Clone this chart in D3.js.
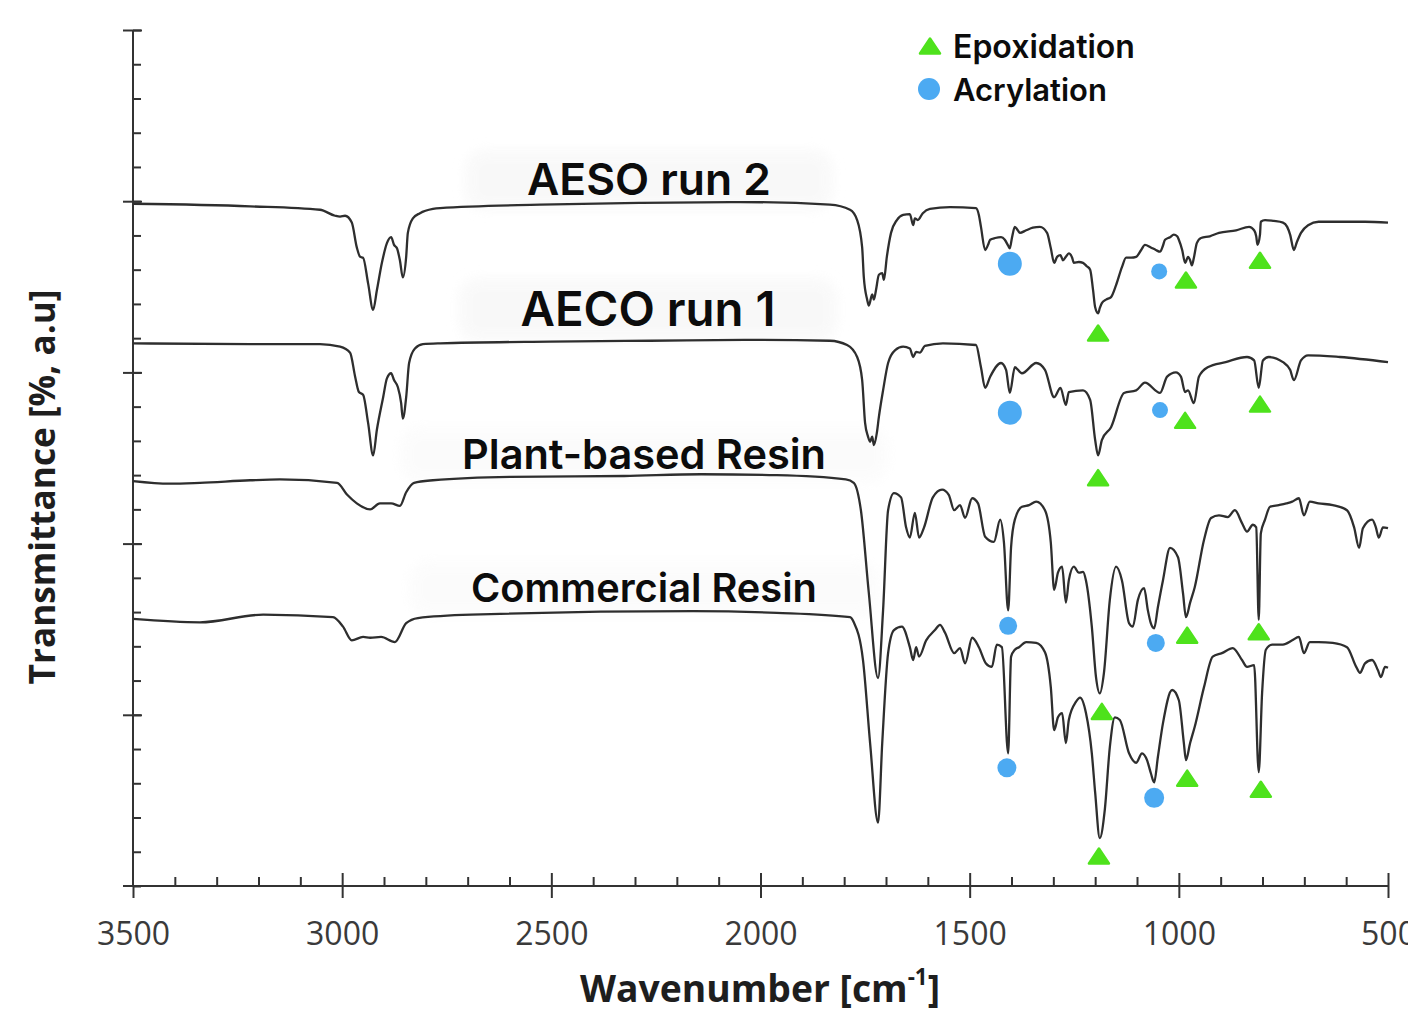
<!DOCTYPE html>
<html>
<head>
<meta charset="utf-8">
<script src="https://cdn.jsdelivr.net/npm/d3@7"></script>
<style>
  html, body { margin: 0; padding: 0; background: #ffffff; }
  svg { display: block; }
</style>
</head>
<body>
<svg id="chart" width="1408" height="1010"></svg>
<script>
// ---------------- DATA ----------------
const wavenumberTicks = [3500, 3000, 2500, 2000, 1500, 1000, 500];
const wavenumberTickLabels = ["3500", "3000", "2500", "2000", "1500", "1000", "500"];
const seriesNames = ["AESO run 2", "AECO run 1", "Plant-based Resin", "Commercial Resin"];
const legendLabels = ["Epoxidation", "Acrylation"];

// [wavenumber cm-1, transmittance (stacked, a.u.)]
const aesoRun2 = [[3500,79.7],[3220,79.4],[3053,79.0],[3017,78.3],[3005,78.2],[2993,78.3],[2977,77.5],[2965,74.6],[2957,73.5],[2950,73.4],[2938,70.4],[2926,67.3],[2917,69.6],[2905,72.8],[2893,75.1],[2883,75.8],[2876,74.9],[2869,74.5],[2862,73.1],[2855,71.1],[2847,73.5],[2843,76.3],[2831,78.0],[2814,78.6],[2783,79.1],[2766,79.2],[2527,79.6],[2288,79.8],[2049,79.9],[1834,79.6],[1786,79.0],[1769,77.8],[1757,74.6],[1753,71.1],[1745,68.5],[1741,67.8],[1733,69.1],[1729,68.5],[1724,69.6],[1717,71.4],[1709,71.6],[1705,70.8],[1698,73.5],[1688,76.3],[1674,77.8],[1659,78.4],[1643,78.5],[1635,77.2],[1631,78.0],[1624,77.8],[1612,78.6],[1595,79.1],[1547,79.3],[1485,79.2],[1478,78.4],[1473,77.0],[1463,74.3],[1456,74.9],[1451,75.5],[1439,75.7],[1425,75.8],[1416,75.5],[1408,74.8],[1404,74.5],[1399,75.7],[1392,77.0],[1385,76.6],[1380,76.3],[1365,76.6],[1349,76.9],[1332,77.0],[1315,76.3],[1306,74.5],[1298,72.8],[1291,73.5],[1283,73.7],[1277,73.1],[1270,73.5],[1263,73.9],[1255,73.4],[1251,72.8],[1239,72.9],[1229,72.8],[1220,72.4],[1212,72.0],[1205,69.6],[1200,67.6],[1193,66.9],[1189,67.5],[1184,68.1],[1174,68.5],[1162,68.8],[1150,70.2],[1136,72.3],[1126,73.4],[1114,73.4],[1102,73.5],[1090,74.3],[1081,74.9],[1067,74.6],[1055,74.3],[1045,74.1],[1038,74.8],[1033,75.5],[1021,75.8],[1012,76.1],[1004,75.9],[1000,75.5],[992,74.3],[985,72.8],[978,73.5],[973,73.1],[969,72.5],[964,73.4],[957,75.1],[947,75.7],[926,75.9],[904,76.3],[863,76.6],[832,77.0],[820,76.6],[815,75.9],[812,74.9],[806,76.1],[804,77.6],[794,77.8],[773,77.7],[751,77.5],[741,77.0],[734,76.1],[725,74.3],[718,75.2],[708,76.3],[691,77.2],[666,77.6],[615,77.6],[555,77.6],[500,77.5]];

const aecoRun1 = [[3500,63.4],[3220,63.3],[3053,63.3],[3005,63.0],[2981,62.3],[2969,59.5],[2960,57.7],[2950,57.4],[2938,54.1],[2926,50.3],[2917,53.3],[2902,57.1],[2893,59.3],[2883,59.9],[2876,59.1],[2867,58.3],[2859,56.4],[2855,54.6],[2847,57.1],[2840,61.1],[2826,62.8],[2807,63.3],[2766,63.4],[2503,63.6],[2264,63.7],[2025,63.8],[1834,63.7],[1793,63.2],[1769,61.8],[1757,59.1],[1750,54.1],[1743,52.5],[1738,51.9],[1733,52.5],[1729,51.5],[1722,52.9],[1717,54.8],[1707,57.9],[1695,61.1],[1678,62.6],[1659,63.0],[1643,62.8],[1635,61.8],[1628,62.4],[1619,62.3],[1607,63.1],[1564,63.4],[1485,63.2],[1473,60.6],[1463,58.2],[1451,59.5],[1425,61.1],[1413,60.3],[1404,57.6],[1392,60.6],[1375,59.9],[1341,61.1],[1320,60.3],[1298,57.1],[1283,58.2],[1270,56.2],[1263,57.7],[1229,57.9],[1212,56.8],[1200,52.1],[1193,50.3],[1184,52.1],[1162,53.6],[1131,57.6],[1102,57.9],[1081,58.8],[1045,57.6],[1028,59.5],[1007,60.0],[995,59.5],[985,57.7],[978,57.9],[964,56.4],[952,59.5],[931,60.6],[888,61.2],[837,61.8],[820,61.4],[809,58.2],[799,61.4],[785,61.8],[751,61.2],[734,60.3],[725,59.1],[708,61.4],[691,62.0],[615,61.8],[500,61.2]];

const plantResin = [[3500,47.3],[3412,47.0],[3340,47.1],[3220,47.4],[3149,47.5],[3012,47.1],[2988,45.7],[2965,44.7],[2933,44.0],[2910,44.7],[2883,44.7],[2862,44.4],[2847,46.0],[2828,47.1],[2783,47.4],[2599,47.8],[2326,47.9],[2142,48.1],[1961,48.0],[1796,47.5],[1777,47.1],[1760,43.9],[1741,34.2],[1719,24.3],[1707,32.2],[1695,43.9],[1681,45.9],[1664,45.4],[1652,41.9],[1643,40.7],[1631,43.6],[1621,40.7],[1609,41.9],[1588,45.4],[1566,46.3],[1550,45.7],[1537,43.9],[1523,44.5],[1511,43.0],[1494,45.3],[1480,44.7],[1463,40.8],[1442,40.2],[1427,42.8],[1418,40.1],[1408,32.2],[1401,39.6],[1392,42.8],[1375,44.3],[1358,44.5],[1341,44.9],[1320,43.9],[1306,40.1],[1298,34.6],[1289,36.6],[1279,37.3],[1270,33.1],[1263,35.7],[1251,37.3],[1239,36.6],[1229,36.7],[1222,35.7],[1208,30.3],[1198,24.4],[1189,22.5],[1179,24.9],[1165,33.4],[1150,37.3],[1136,35.7],[1119,30.7],[1110,30.3],[1098,33.4],[1083,34.8],[1074,32.2],[1067,30.7],[1059,30.1],[1050,32.6],[1038,35.7],[1021,39.5],[1002,38.4],[990,34.2],[983,31.4],[973,33.1],[962,34.9],[940,40.4],[923,43.0],[904,43.3],[883,43.1],[866,43.9],[849,42.4],[837,41.4],[823,42.2],[815,41.9],[809,31.1],[804,41.2],[794,42.8],[782,44.3],[761,44.5],[743,44.7],[729,44.9],[713,45.3],[701,43.3],[687,44.9],[666,44.7],[632,44.5],[598,43.9],[581,41.9],[569,39.5],[560,41.8],[538,42.8],[529,41.9],[522,40.7],[512,41.9],[500,41.8]];

const commercialResin = [[3500,31.2],[3340,30.8],[3189,31.7],[3022,31.4],[2998,30.3],[2977,28.7],[2950,29.1],[2933,29.0],[2907,29.1],[2874,28.5],[2847,30.7],[2819,31.3],[2692,31.7],[2161,32.1],[1961,31.9],[1786,31.4],[1777,30.8],[1755,26.4],[1738,16.7],[1719,7.4],[1709,16.7],[1695,27.2],[1681,29.9],[1662,30.3],[1643,27.9],[1635,26.4],[1628,27.9],[1621,26.8],[1604,28.7],[1583,29.9],[1571,30.5],[1559,29.6],[1537,27.2],[1523,27.8],[1511,26.0],[1494,29.0],[1478,27.9],[1461,26.0],[1447,25.6],[1435,28.2],[1423,27.9],[1408,15.5],[1401,26.8],[1392,27.6],[1382,27.9],[1365,28.5],[1341,28.4],[1320,27.3],[1306,23.2],[1298,18.2],[1289,19.7],[1279,20.2],[1270,16.7],[1263,19.4],[1246,21.5],[1236,22.0],[1222,20.2],[1208,15.5],[1200,10.9],[1189,5.6],[1177,8.9],[1165,16.2],[1153,19.7],[1141,19.4],[1119,15.5],[1102,14.4],[1088,15.5],[1076,14.7],[1067,13.2],[1059,12.1],[1050,15.1],[1038,19.0],[1016,22.9],[1000,21.7],[988,16.7],[983,14.7],[973,16.7],[962,18.6],[940,23.2],[919,26.8],[897,27.2],[871,27.8],[849,26.4],[837,25.6],[820,25.8],[809,13.3],[801,22.5],[792,27.6],[777,28.2],[751,28.2],[729,28.7],[713,29.1],[701,27.2],[687,28.5],[666,28.5],[632,28.4],[598,27.9],[576,25.6],[567,24.9],[555,26.0],[538,26.4],[524,25.2],[517,24.4],[507,25.6],[500,25.5]];

// annotated bands: [wavenumber, transmittance position of marker]
const epoxidationMarks = [[1193,64.6],[983,70.8],[806,73.1],[1193,47.7],[985,54.4],[806,56.3],[1184,20.4],[980,29.3],[809,29.7],[1191,3.5],[980,12.6],[804,11.3]];
const acrylationMarks = [[1404,72.7],[1047,71.8],[1404,55.3],[1045,55.6],[1408,30.4],[1055,28.4],[1411,13.8],[1059,10.3]];

// ---------------- STYLE / LAYOUT ----------------
const ink = "#333333";
const green = "#4ee21c";
const blue = "#4caaf2";
const circleRadii = [12, 8, 12, 8, 9, 9, 9.5, 10];

const svg = d3.select("#chart");
const x = d3.scaleLinear().domain([3500, 500]).range([133, 1388]);
const y = d3.scaleLinear().domain([0, 100]).range([886, 30]);

const defs = svg.append("defs");
defs.append("filter").attr("id", "soft").attr("x", "-20%").attr("y", "-50%").attr("width", "140%").attr("height", "200%")
  .append("feGaussianBlur").attr("stdDeviation", 6);

function fit(sel, target) {
  const w = sel.node().getComputedTextLength();
  const fs = parseFloat(sel.attr("font-size"));
  sel.attr("font-size", fs * target / w);
  return sel;
}

// ---------------- AXES ----------------
const axG = svg.append("g");
const styleTicks = g => { g.select(".domain").remove(); g.selectAll("line").attr("stroke", ink).attr("stroke-width", 2); };
// Y axis
axG.append("g").attr("transform", "translate(133,0)")
  .call(d3.axisRight(y).tickValues(d3.range(0, 101, 4)).tickSize(8).tickFormat("")).call(styleTicks);
axG.append("g").attr("transform", "translate(133,0)")
  .call(d3.axisLeft(y).tickValues(d3.range(20, 101, 20)).tickSize(10).tickFormat("")).call(styleTicks);
axG.append("g").attr("transform", "translate(133,0)")
  .call(d3.axisRight(y).tickValues(d3.range(20, 101, 20)).tickSize(9).tickFormat("")).call(styleTicks);
axG.append("line").attr("x1", 133).attr("x2", 133).attr("y1", y(100)).attr("y2", y(0))
  .attr("stroke", ink).attr("stroke-width", 2);

// X axis
const xMinor = d3.range(3400, 499, -100).filter(v => v % 500 !== 0);
axG.append("g").attr("transform", "translate(0,886)")
  .call(d3.axisTop(x).tickValues(xMinor).tickSize(9).tickFormat("")).call(styleTicks);
axG.append("g").attr("transform", "translate(0,886)")
  .call(d3.axisTop(x).tickValues(wavenumberTicks.slice(1)).tickSize(13).tickFormat("")).call(styleTicks);
const xAxisBottom = axG.append("g").attr("transform", "translate(0,886)")
  .call(d3.axisBottom(x).tickValues(wavenumberTicks).tickSize(12).tickPadding(24)
    .tickFormat((d, i) => wavenumberTickLabels[i]))
  .call(styleTicks);
xAxisBottom.selectAll("text")
  .attr("font-family", "'Open Sans', sans-serif").attr("font-size", 32)
  .attr("fill", "#3a3a3a").attr("dy", "0.71em");
axG.append("line").attr("x1", 123).attr("x2", x(500)).attr("y1", 886).attr("y2", 886)
  .attr("stroke", ink).attr("stroke-width", 2);

// axis titles
const xt = svg.append("text").attr("x", 760).attr("y", 1002).attr("text-anchor", "middle")
  .attr("font-family", "'Open Sans', sans-serif").attr("font-weight", 700).attr("font-size", 33).attr("fill", "#1e1e1e");
xt.append("tspan").text("Wavenumber [cm");
xt.append("tspan").text("-1").attr("font-size", "0.6em").attr("dy", "-0.75em");
xt.append("tspan").text("]").attr("dy", "0.45em");
fit(xt, 360);

const yt = svg.append("text").attr("transform", "translate(55,487) rotate(-90)").attr("text-anchor", "middle")
  .attr("font-family", "'Open Sans', sans-serif").attr("font-weight", 700).attr("font-size", 32).attr("fill", "#1e1e1e")
  .text("Transmittance [%, a.u]");
fit(yt, 395);

// ---------------- SERIES LABELS ----------------
const labelSpecs = [
  { cx: 649, base: 195, width: 244 },
  { cx: 648, base: 326, width: 255 },
  { cx: 644, base: 469, width: 364 },
  { cx: 644, base: 602, width: 346 }
];
const labelBg = svg.append("g");
const labelG = svg.append("g");
seriesNames.forEach((name, i) => {
  const s = labelSpecs[i];
  const t = labelG.append("text").attr("x", s.cx).attr("y", s.base).attr("text-anchor", "middle")
    .attr("font-family", "Inter, 'Noto Sans', sans-serif").attr("font-weight", 600).attr("font-size", 38)
    .attr("fill", "#0c0c0c").text(name);
  fit(t, s.width);
  const bb = t.node().getBBox();
  labelBg.append("rect").attr("x", bb.x - 62).attr("y", bb.y - 2).attr("width", bb.width + 124).attr("height", bb.height + 6)
    .attr("rx", 20).attr("fill", i < 2 ? "#f4f4f4" : "#f8f8f8").attr("opacity", i < 2 ? 0.55 : 0.45).attr("filter", "url(#soft)");
});

// ---------------- SPECTRA ----------------
const line = d3.line().x(d => x(d[0])).y(d => y(d[1])).curve(d3.curveMonotoneX);
const spectraG = svg.append("g");
[aesoRun2, aecoRun1, plantResin, commercialResin].forEach(s => {
  spectraG.append("path").datum(s).attr("d", line).attr("fill", "none")
    .attr("stroke", "#2e2e2e").attr("stroke-width", 2.3).attr("stroke-linejoin", "round");
});

// ---------------- MARKERS ----------------
const triPath = (cx, cy, w, h) => `M${cx},${cy - h / 2}L${cx + w / 2},${cy + h / 2}L${cx - w / 2},${cy + h / 2}Z`;
const markG = svg.append("g");
markG.selectAll("path.epox").data(epoxidationMarks).join("path").attr("class", "epox")
  .attr("d", d => triPath(x(d[0]), y(d[1]), 20, 15))
  .attr("fill", green).attr("stroke", green).attr("stroke-width", 2.5).attr("stroke-linejoin", "round");
markG.selectAll("circle.acryl").data(acrylationMarks).join("circle").attr("class", "acryl")
  .attr("cx", d => x(d[0])).attr("cy", d => y(d[1])).attr("r", (d, i) => circleRadii[i])
  .attr("fill", blue);

// ---------------- LEGEND ----------------
const lg = svg.append("g");
lg.append("path").attr("d", triPath(930, 46, 20, 15)).attr("fill", green).attr("stroke", green)
  .attr("stroke-width", 2.5).attr("stroke-linejoin", "round");
lg.append("circle").attr("cx", 929).attr("cy", 89).attr("r", 11).attr("fill", blue);
const lt1 = lg.append("text").attr("x", 953).attr("y", 58).attr("font-family", "Inter, 'Noto Sans', sans-serif")
  .attr("font-weight", 600).attr("font-size", 28).attr("fill", "#0c0c0c").text(legendLabels[0]);
fit(lt1, 182);
const lt2 = lg.append("text").attr("x", 953).attr("y", 101).attr("font-family", "Inter, 'Noto Sans', sans-serif")
  .attr("font-weight", 600).attr("font-size", 28).attr("fill", "#0c0c0c").text(legendLabels[1]);
fit(lt2, 154);
</script>
</body>
</html>
